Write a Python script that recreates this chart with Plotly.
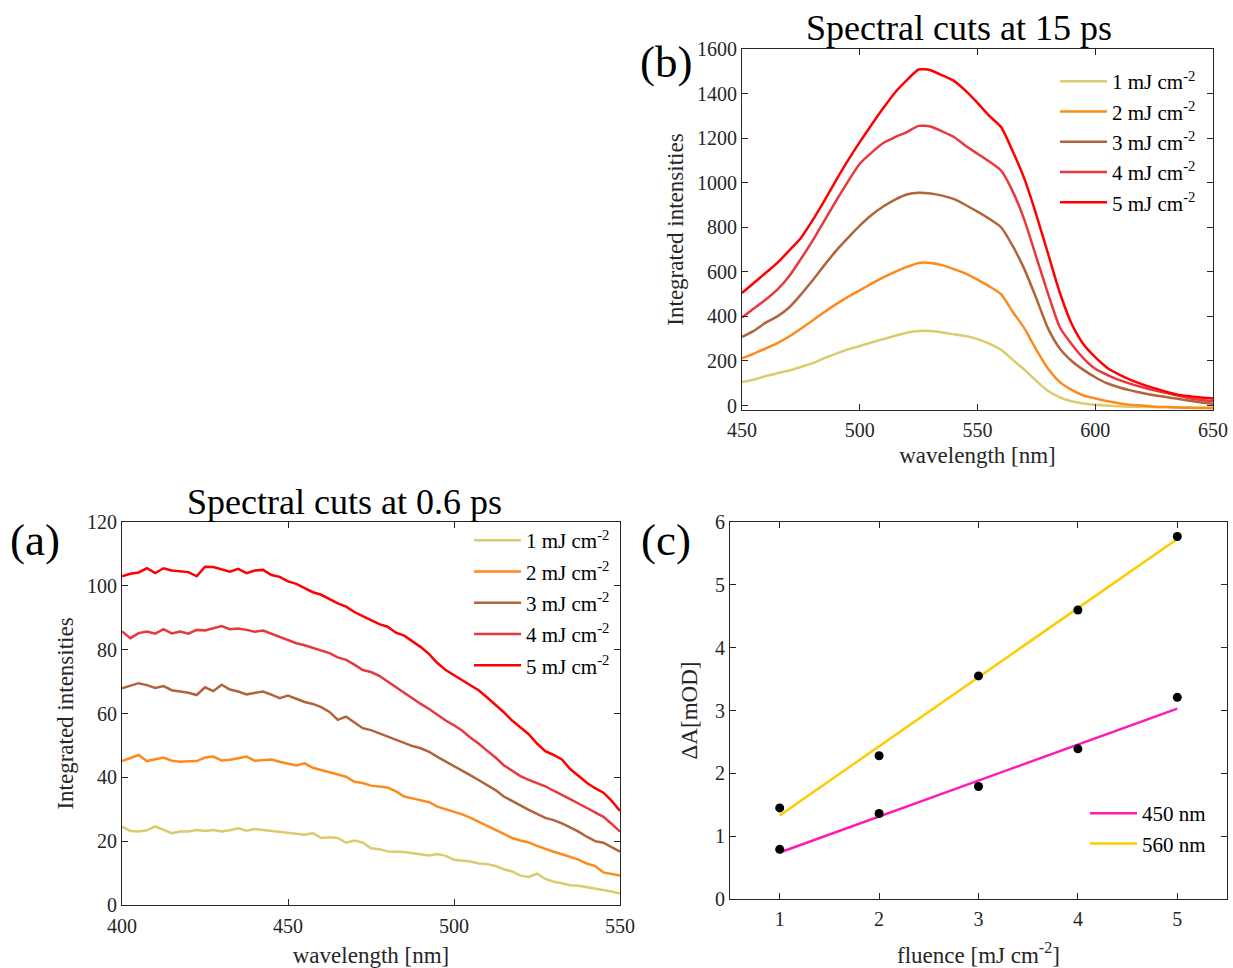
import plotly.graph_objects as go

FONT = "Liberation Serif, Times New Roman, serif"
W, H = 1233, 968

labels = ["1 mJ cm<sup>-2</sup>", "2 mJ cm<sup>-2</sup>", "3 mJ cm<sup>-2</sup>",
          "4 mJ cm<sup>-2</sup>", "5 mJ cm<sup>-2</sup>"]
colors = ["#DCCB6C", "#FF8A1C", "#B0643A", "#E8383D", "#FF0000"]

# ---- panel (b): spectral cuts at 15 ps ----
wl_b = [450 + 5 * i for i in range(41)]
b1 = [105, 117, 132, 145, 157, 173, 190, 213, 233, 252, 267, 283, 298, 313, 327, 335, 334, 328, 320, 312,
      298, 278, 250, 205, 160, 110, 65, 37, 19, 9, 3, 0, -3, -5, -6, -7, -7, -8, -9, -10, -10]
b2 = [212, 233, 256, 280, 310, 345, 382, 420, 455, 488, 517, 547, 575, 600, 622, 640, 640, 630, 612, 592,
      565, 535, 500, 420, 345, 250, 165, 105, 70, 45, 32, 20, 10, 3, 0, -5, -7, -9, -10, -11, -12]
b3 = [308, 335, 372, 400, 440, 498, 562, 630, 695, 752, 807, 855, 893, 924, 947, 955, 952, 942, 926, 900,
      870, 838, 800, 715, 610, 480, 345, 255, 200, 160, 127, 100, 82, 68, 56, 46, 38, 30, 22, 14, 8]
b4 = [395, 435, 475, 520, 580, 658, 740, 830, 920, 1005, 1085, 1135, 1178, 1205, 1227, 1255, 1252, 1230, 1205, 1165,
      1130, 1095, 1055, 960, 830, 665, 500, 350, 275, 212, 165, 138, 115, 97, 82, 68, 57, 45, 33, 25, 20]
b5 = [505, 550, 595, 640, 695, 752, 832, 920, 1012, 1100, 1182, 1260, 1335, 1405, 1460, 1508, 1505, 1482, 1457, 1412,
      1358, 1300, 1250, 1140, 1015, 855, 680, 505, 366, 275, 217, 170, 140, 115, 95, 78, 62, 49, 42, 36, 32]
series_b = [b1, b2, b3, b4, b5]

# ---- panel (a): spectral cuts at 0.6 ps ----
wl_a = [400 + 2.5 * i for i in range(61)]
a5 = [103.0, 103.8, 104.2, 105.5, 104.0, 105.5, 104.8, 104.6, 104.3, 103.0, 106.0, 105.9, 105.2, 104.4, 105.3,
      104.0, 104.8, 105.0, 103.4, 102.8, 101.4, 100.6, 99.3, 98.0, 97.2, 95.8, 94.5, 93.5, 91.8, 90.5, 89.3,
      88.0, 87.2, 85.3, 84.4, 82.6, 80.8, 78.6, 75.8, 73.6, 72.0, 70.5, 69.0, 67.2, 65.0, 62.8, 60.4, 57.8,
      55.5, 53.5, 50.6, 48.2, 47.0, 45.6, 42.6, 40.5, 38.3, 36.6, 35.2, 32.6, 29.5]
a4 = [85.7, 83.6, 85.2, 85.7, 85.0, 86.4, 85.1, 85.7, 85.0, 86.2, 86.0, 86.8, 87.4, 86.4, 86.6, 86.2, 85.6,
      86.0, 85.0, 84.1, 83.2, 82.0, 81.4, 80.5, 79.7, 78.9, 77.6, 76.8, 75.3, 73.6, 73.0, 71.8, 70.0, 68.2,
      66.4, 64.8, 63.0, 61.4, 59.6, 57.8, 56.3, 54.6, 52.4, 50.5, 48.3, 46.2, 43.8, 42.0, 40.4, 39.2, 38.2,
      37.2, 35.8, 34.6, 33.2, 31.8, 30.4, 28.9, 27.6, 25.4, 23.0]
a3 = [67.9, 68.8, 69.5, 68.9, 68.0, 68.6, 67.3, 66.9, 66.5, 65.8, 68.2, 67.0, 69.0, 67.5, 66.9, 66.0, 66.4,
      66.9, 65.9, 64.8, 65.6, 64.5, 63.6, 63.0, 62.0, 60.5, 58.0, 59.0, 57.2, 55.4, 54.8, 53.8, 53.0, 51.8,
      50.8, 49.8, 49.1, 48.0, 46.4, 45.0, 43.6, 42.2, 40.6, 39.1, 37.6, 36.0, 34.0, 32.5, 31.2, 29.8, 28.5,
      27.3, 26.6, 25.6, 24.3, 23.0, 21.4, 20.0, 19.5, 18.2, 16.7]
a2 = [45.1, 46.0, 47.0, 45.1, 45.6, 46.2, 45.2, 44.9, 45.0, 45.1, 46.2, 46.5, 45.3, 45.5, 46.0, 46.5, 45.2,
      45.5, 45.6, 44.9, 44.2, 43.7, 44.4, 43.0, 42.3, 41.6, 41.0, 40.2, 38.6, 38.2, 37.4, 37.0, 36.8, 35.6,
      34.0, 33.4, 32.8, 32.2, 30.8, 30.0, 29.2, 28.4, 27.3, 26.0, 24.8, 23.6, 22.2, 21.0, 20.2, 19.6, 18.5,
      17.5, 16.7, 15.9, 15.1, 14.2, 13.0, 12.2, 10.2, 9.8, 9.2]
a1 = [24.6, 23.2, 23.0, 23.4, 24.6, 23.5, 22.5, 23.0, 23.0, 23.5, 23.2, 23.5, 23.0, 23.4, 24.0, 23.3, 23.8,
      23.5, 23.2, 23.0, 22.8, 22.5, 22.0, 22.5, 21.0, 21.2, 21.0, 19.5, 20.2, 19.6, 17.8, 17.5, 16.8, 16.7,
      16.6, 16.2, 15.9, 15.5, 16.0, 15.4, 14.2, 14.0, 13.6, 13.0, 12.8, 12.2, 11.2, 10.5, 9.2, 8.8, 9.8,
      8.2, 7.3, 6.8, 6.2, 6.0, 5.6, 5.0, 4.6, 4.2, 3.6]
series_a = [a1, a2, a3, a4, a5]

# ---- panel (c): fluence dependence ----
fluence = [1, 2, 3, 4, 5]
dA_450 = [0.79, 1.36, 1.79, 2.39, 3.21]
dA_560 = [1.45, 2.28, 3.55, 4.60, 5.77]
fit_x = [1, 5]
fit_450 = [0.74, 3.03]
fit_560 = [1.33, 5.73]

fig = go.Figure()

for i, (lab, col, ys) in enumerate(zip(labels, colors, series_b)):
    fig.add_trace(go.Scatter(x=wl_b, y=ys, mode="lines", name=lab,
                             line=dict(color=col, width=2.5, shape="spline", smoothing=0.6),
                             xaxis="x", yaxis="y", legend="legend", legendgroup="b%d" % i))
for i, (lab, col, ys) in enumerate(zip(labels, colors, series_a)):
    fig.add_trace(go.Scatter(x=wl_a, y=ys, mode="lines", name=lab,
                             line=dict(color=col, width=2.5),
                             xaxis="x2", yaxis="y2", legend="legend2", legendgroup="a%d" % i))

fig.add_trace(go.Scatter(x=fit_x, y=fit_450, mode="lines", name="450 nm",
                         line=dict(color="#FF1AB4", width=2.5),
                         xaxis="x3", yaxis="y3", legend="legend3", legendgroup="c0"))
fig.add_trace(go.Scatter(x=fit_x, y=fit_560, mode="lines", name="560 nm",
                         line=dict(color="#FFCC00", width=2.5),
                         xaxis="x3", yaxis="y3", legend="legend3", legendgroup="c1"))
fig.add_trace(go.Scatter(x=fluence, y=dA_450, mode="markers", showlegend=False,
                         marker=dict(color="black", size=9),
                         xaxis="x3", yaxis="y3"))
fig.add_trace(go.Scatter(x=fluence, y=dA_560, mode="markers", showlegend=False,
                         marker=dict(color="black", size=9),
                         xaxis="x3", yaxis="y3"))

AX = "#262626"


def ax(domain, rng, tickvals, title, anchor, standoff=4, lblgap=0):
    return dict(domain=domain, range=rng, tickvals=tickvals, showline=True, linecolor=AX,
                linewidth=1, mirror="ticks", ticks="inside", ticklen=6, tickcolor=AX,
                showgrid=False, zeroline=False, anchor=anchor, automargin=False,
                ticklabelstandoff=lblgap,
                tickfont=dict(family=FONT, size=20, color=AX),
                title=dict(text=title, font=dict(family=FONT, size=23, color=AX), standoff=standoff))


def px_x(a, b):
    return [a / W, b / W]


def px_y(top, bottom):
    return [1 - bottom / H, 1 - top / H]


def legend_style(x_px, y_px, gap):
    return dict(x=x_px / W, y=1 - y_px / H, bgcolor="rgba(255,255,255,0)", borderwidth=0,
                font=dict(family=FONT, size=21, color="black"), itemwidth=47,
                xanchor="left", yanchor="top", tracegroupgap=gap)


fig.update_layout(
    template="none",
    width=W, height=H, margin=dict(l=0, r=0, t=0, b=0, autoexpand=False),
    paper_bgcolor="white", plot_bgcolor="white",
    font=dict(family=FONT, color=AX),
    xaxis=ax(px_x(742, 1213), [450, 650], [450, 500, 550, 600, 650], "wavelength [nm]", "y", 6, 2),
    yaxis=ax(px_y(49, 410), [-20, 1600], list(range(0, 1601, 200)), "Integrated intensities", "x", 6),
    xaxis2=ax(px_x(122, 620), [400, 550], [400, 450, 500, 550], "wavelength [nm]", "y2", 10, 3),
    yaxis2=ax(px_y(522, 905), [0, 120], list(range(0, 121, 20)), "Integrated intensities", "x2", 6),
    xaxis3=ax(px_x(730, 1227), [0.5, 5.5], [1, 2, 3, 4, 5], "fluence [mJ cm<sup>-2</sup>]", "y3", 17, 2),
    yaxis3=ax(px_y(522, 899), [0, 6], [0, 1, 2, 3, 4, 5, 6], "ΔA[mOD]", "x3", 10),
    legend=legend_style(1055, 61, 0),
    legend2=legend_style(469, 520, 1),
    legend3=legend_style(1085, 793, 0),
    showlegend=True,
)

ann = [
    dict(text="Spectral cuts at 15 ps", x=959 / W, y=1 - 28 / H, size=36),
    dict(text="Spectral cuts at 0.6 ps", x=344 / W, y=1 - 502 / H, size=36),
    dict(text="(b)", x=666 / W, y=1 - 62 / H, size=45),
    dict(text="(a)", x=35 / W, y=1 - 540 / H, size=45),
    dict(text="(c)", x=666 / W, y=1 - 540 / H, size=45),
]
for a in ann:
    fig.add_annotation(text=a["text"], x=a["x"], y=a["y"], xref="paper", yref="paper",
                       xanchor="center", yanchor="middle", showarrow=False,
                       font=dict(family=FONT, size=a["size"], color="black"))

fig.write_html("out.html")
